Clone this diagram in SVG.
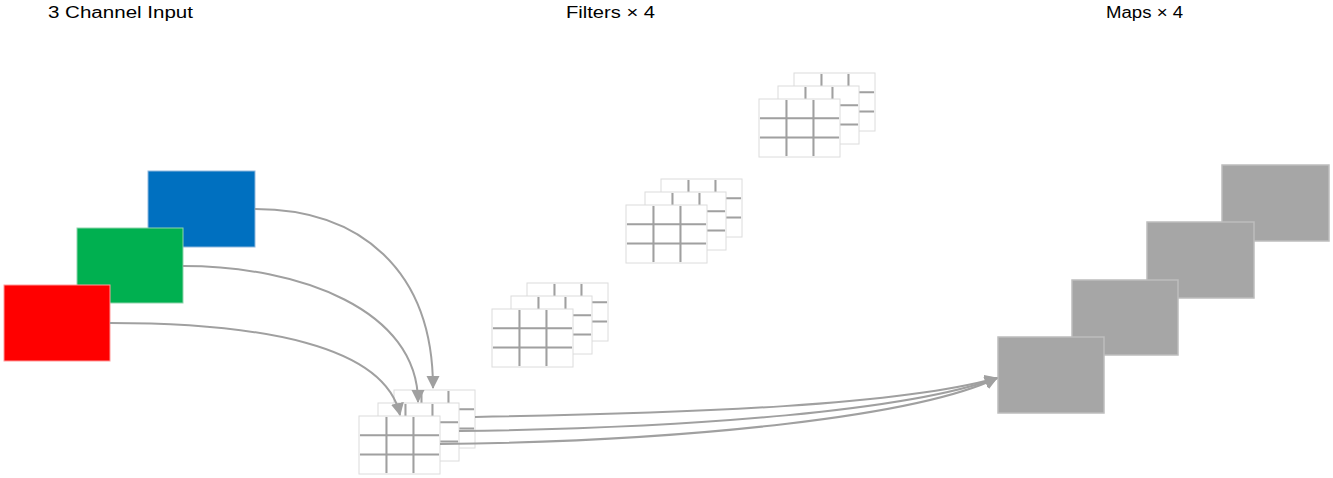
<svg xmlns="http://www.w3.org/2000/svg" width="1333" height="478" viewBox="0 0 1333 478">
<style>
.title{font-family:"Liberation Sans",Arial,sans-serif;font-size:16px;fill:#000}
.cellb{fill:#fff;stroke:#dcdcdc;stroke-width:1}
.grid{stroke:#a0a0a0;stroke-width:2;fill:none}
.map{fill:#a6a6a6;stroke:#bdbdbd;stroke-width:1.5}
.conn{fill:none;stroke:#a0a0a0;stroke-width:2}
</style>
<defs>
<marker id="arr" markerUnits="userSpaceOnUse" markerWidth="14" markerHeight="14" refX="12" refY="6.5" orient="auto">
<path d="M0,0 L13,6.5 L0,13 z" fill="#a0a0a0"/>
</marker>
<g id="flt">
<rect class="cellb" x="0" y="0" width="81" height="58"/>
<path d="M0.5,19.3H80.5M0.5,38.7H80.5M27,0.5V57.5M54,0.5V57.5" stroke="#e4e4e4" stroke-width="1"/>
<path class="grid" d="M1,19.3H80M1,38.5H80M27.5,1V57M54.5,1V57"/>
</g>
</defs>
<rect width="1333" height="478" fill="#fff"/>
<g id="titles">
<text class="title" x="48" y="18" textLength="145" lengthAdjust="spacingAndGlyphs">3 Channel Input</text>
<text class="title" x="566" y="18" textLength="89" lengthAdjust="spacingAndGlyphs">Filters × 4</text>
<text class="title" x="1106" y="18" textLength="77" lengthAdjust="spacingAndGlyphs">Maps × 4</text>
</g>
<g id="input-blue"><rect x="148" y="171" width="107" height="76" fill="#0070c0" stroke="#8fb8dd" stroke-width="1"/></g>
<g id="input-green"><rect x="77" y="228" width="106" height="75" fill="#00b050" stroke="#8fd4ab" stroke-width="1"/></g>
<g id="input-red"><rect x="4" y="285" width="106" height="76" fill="#ff0000" stroke="#ff9a9a" stroke-width="1"/></g>
<g id="filters-1">
<use href="#flt" x="794" y="73"/><use href="#flt" x="778" y="86"/><use href="#flt" x="759" y="99"/>
</g>
<g id="filters-2">
<use href="#flt" x="661" y="179"/><use href="#flt" x="645" y="192"/><use href="#flt" x="626" y="205"/>
</g>
<g id="filters-3">
<use href="#flt" x="527" y="283"/><use href="#flt" x="511" y="296"/><use href="#flt" x="492" y="309"/>
</g>
<g id="filters-4">
<use href="#flt" x="394" y="390"/><use href="#flt" x="378" y="403"/><use href="#flt" x="359" y="416"/>
</g>
<g id="map-4"><rect class="map" x="1222" y="165" width="107" height="76"/></g>
<g id="map-3"><rect class="map" x="1147" y="222" width="107" height="76"/></g>
<g id="map-2"><rect class="map" x="1072" y="280" width="106" height="75"/></g>
<g id="map-1"><rect class="map" x="998" y="337" width="106" height="76"/></g>
<g id="connectors">
<path class="conn" marker-end="url(#arr)" d="M255,209 C360,209 433,270 433,388"/>
<path class="conn" marker-end="url(#arr)" d="M183,266 C300,266 418,310 418,402"/>
<path class="conn" marker-end="url(#arr)" d="M110,323 C260,323 385,345 400,415"/>
<path class="conn" marker-end="url(#arr)" d="M475,417 C700,413 900,405 997,378"/>
<path class="conn" marker-end="url(#arr)" d="M459,431 C700,428 910,410 997,378"/>
<path class="conn" marker-end="url(#arr)" d="M440,444 C700,441 920,415 997,378"/>
</g>
</svg>
